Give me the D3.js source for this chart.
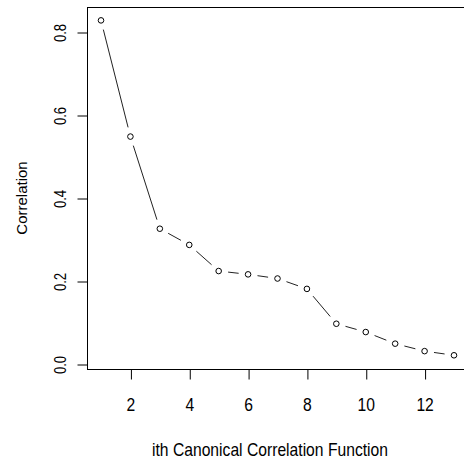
<!DOCTYPE html>
<html><head><meta charset="utf-8">
<script src="https://cdn.jsdelivr.net/npm/d3@7"></script>
<style>body{margin:0;background:#fff}svg{display:block}text{font-family:"Liberation Sans",Arial,sans-serif;fill:#000}</style>
</head><body>
<script>
const functionIndex = [1,2,3,4,5,6,7,8,9,10,11,12,13];
const correlation = [0.828,0.548,0.326,0.287,0.224,0.216,0.206,0.181,0.097,0.077,0.049,0.031,0.021];
const xTicks = [2,4,6,8,10,12];
const yTicks = [0.0,0.2,0.4,0.6,0.8];
const xTitle = "ith Canonical Correlation Function";
const yTitle = "Correlation";

const W=464,H=460;
const svg=d3.select("body").append("svg").attr("width",W).attr("height",H);
const x=d3.scaleLinear().domain([1,13]).range([101,454]);
const y=d3.scaleLinear().domain([0,0.8]).range([364,32]);
const x0=x(0.52), x1=x(13.48), yb=y(-0.0113), yt=y(0.860);

// box
svg.append("rect").attr("x",Math.round(x0)+0.5).attr("y",Math.round(yt)+0.5)
  .attr("width",Math.round(x1-x0)).attr("height",Math.round(yb-yt))
  .attr("fill","none").attr("stroke","#000").attr("stroke-width",1);

// x axis
const xa=svg.append("g").attr("transform",`translate(0,${Math.round(yb)+0.5})`)
  .call(d3.axisBottom(x).tickValues(xTicks).tickFormat(d3.format("d")).tickSize(10).tickPadding(20).tickSizeOuter(0));
xa.select(".domain").remove();
xa.selectAll("line").attr("stroke","#000").attr("transform","translate(0.5,0)");
xa.selectAll("text").attr("font-size",18).attr("dy",0).attr("y",41).attr("fill","#000")
  .each(function(){const l=this.getComputedTextLength();d3.select(this).attr("textLength",l*0.87).attr("lengthAdjust","spacingAndGlyphs");});

// y axis
const ya=svg.append("g").attr("transform",`translate(${Math.round(x0)+0.5},0)`)
  .call(d3.axisLeft(y).tickValues(yTicks).tickFormat(d3.format(".1f")).tickSize(10).tickSizeOuter(0));
ya.select(".domain").remove();
ya.selectAll("line").attr("stroke","#000").attr("transform","translate(0,0.5)");
ya.selectAll("text").attr("font-size",16).attr("x",0).attr("dy",0).attr("fill","#000")
  .attr("text-anchor","middle").attr("transform","translate(-22,0.5) rotate(-90)")
  .each(function(){const l=this.getComputedTextLength();d3.select(this).attr("textLength",l*0.82).attr("lengthAdjust","spacingAndGlyphs");});

// line segments with gaps (type="b")
const gap=9.5;
const pts=functionIndex.map((d,i)=>[x(d),y(correlation[i])]);
const segs=[];
for(let i=0;i<pts.length-1;i++){
  const [ax,ay]=pts[i],[bx,by]=pts[i+1];
  const dx=bx-ax,dy=by-ay,L=Math.hypot(dx,dy);
  if(L>2*gap){segs.push([ax+dx/L*gap,ay+dy/L*gap,bx-dx/L*gap,by-dy/L*gap]);}
}
svg.append("g").selectAll("line").data(segs).join("line")
  .attr("x1",d=>d[0]).attr("y1",d=>d[1]).attr("x2",d=>d[2]).attr("y2",d=>d[3])
  .attr("stroke","#222").attr("stroke-width",1);
svg.append("g").selectAll("circle").data(pts).join("circle")
  .attr("cx",d=>d[0]).attr("cy",d=>d[1]).attr("r",2.8)
  .attr("fill","#fff").attr("stroke","#000").attr("stroke-width",1);

// titles
const xt=svg.append("text").attr("x",270).attr("y",456).attr("text-anchor","middle").attr("font-size",19).text(xTitle);
xt.attr("textLength",236).attr("lengthAdjust","spacingAndGlyphs");
svg.append("text").attr("transform","translate(27,198) rotate(-90)").attr("text-anchor","middle")
  .attr("font-size",15).text(yTitle);
</script>
</body></html>
